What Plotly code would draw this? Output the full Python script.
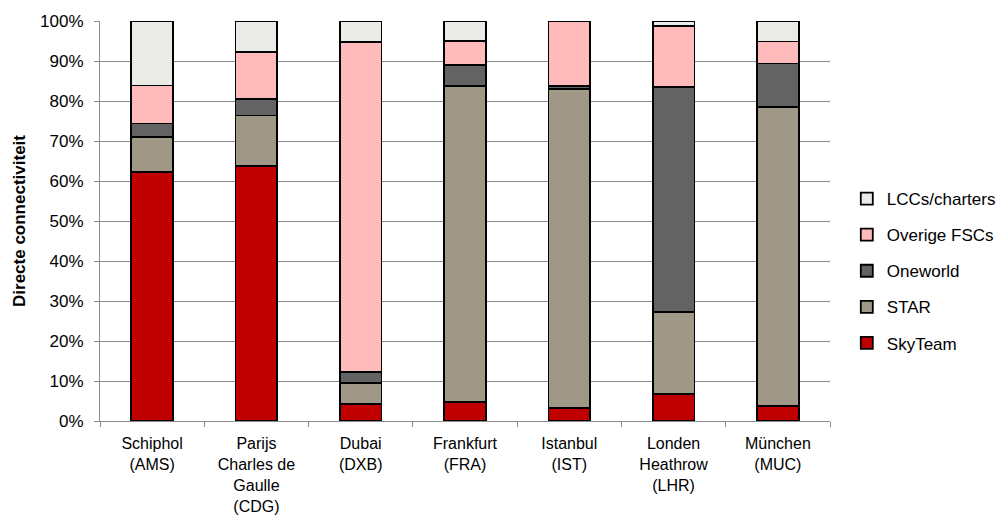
import plotly.graph_objects as go

categories = ["Schiphol<br>(AMS)", "Parijs<br>Charles de<br>Gaulle<br>(CDG)", "Dubai<br>(DXB)",
              "Frankfurt<br>(FRA)", "Istanbul<br>(IST)", "Londen<br>Heathrow<br>(LHR)", "München<br>(MUC)"]

# cumulative tops (%), converted to segment shares
skyteam_top = [62.3, 63.8, 4.2, 4.7, 3.2, 6.7, 3.8]
star_top = [71.1, 76.4, 9.6, 83.7, 83.0, 27.2, 78.6]
oneworld_top = [74.4, 80.5, 12.3, 89.0, 83.7, 83.6, 89.4]
fsc_top = [83.9, 92.3, 94.7, 95.1, 100.0, 98.7, 94.9]
lcc_top = [100.0, 100.0, 100.0, 100.0, 100.0, 100.0, 100.0]

skyteam = [round(a, 1) for a in skyteam_top]
star = [round(b - a, 1) for a, b in zip(skyteam_top, star_top)]
oneworld = [round(b - a, 1) for a, b in zip(star_top, oneworld_top)]
fsc = [round(b - a, 1) for a, b in zip(oneworld_top, fsc_top)]
lcc = [round(b - a, 1) for a, b in zip(fsc_top, lcc_top)]

series = [
    ("SkyTeam", skyteam, "#C00000"),
    ("STAR", star, "#A09886"),
    ("Oneworld", oneworld, "#636363"),
    ("Overige FSCs", fsc, "#FFBBBB"),
    ("LCCs/charters", lcc, "#EAEAE6"),
]

fig = go.Figure()
n = len(series)
for i, (name, vals, color) in enumerate(series):
    fig.add_trace(go.Bar(
        x=categories, y=vals, name=name, legendgroup=name, legendrank=n - i,
        marker=dict(color=color, line=dict(color="black", width=1.8)),
        width=0.4,
    ))

fig.update_layout(
    barmode="stack",
    width=997, height=507,
    margin=dict(l=92, r=175, t=13, b=94, autoexpand=False),
    plot_bgcolor="white", paper_bgcolor="white",
    font=dict(family="Liberation Sans, Arial, sans-serif", size=17, color="black"),
    legend=dict(traceorder="grouped", x=1.023, y=0.375, xanchor="left", yanchor="middle",
                tracegroupgap=11, font=dict(size=17), itemwidth=30),
    showlegend=True,
)
fig.update_yaxes(range=[0, 100], dtick=10, ticksuffix="%", showgrid=True,
                 gridcolor="#8C8C8C", gridwidth=1, showline=True, linecolor="#8C8C8C",
                 ticks="outside", ticklen=5, tickcolor="#8C8C8C", automargin=False,
                 ticklabelstandoff=7,
                 title=dict(text="<b>Directe connectiviteit</b>", font=dict(size=17), standoff=10),
                 tickfont=dict(size=17))
fig.update_xaxes(showline=True, linecolor="#8C8C8C", ticks="outside", tickson="boundaries",
                 ticklen=5, tickcolor="#8C8C8C", tickfont=dict(size=16), tickangle=0,
                 ticklabelstandoff=8, automargin=False)

fig.write_html("out.html")
